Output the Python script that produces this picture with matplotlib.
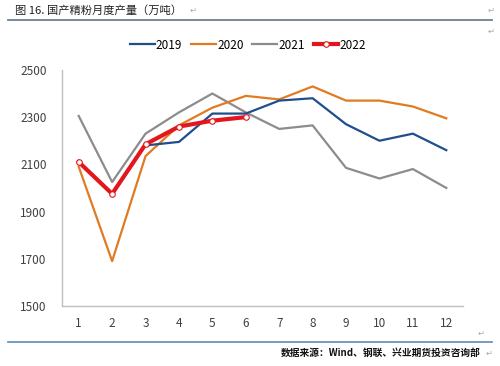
import matplotlib
matplotlib.use("Agg")
import matplotlib.pyplot as plt
from matplotlib.lines import Line2D

plt.rcParams['font.family'] = ['Noto Sans CJK SC', 'DejaVu Sans']

months = list(range(1, 13))
month_labels = [str(m) for m in months]

# 2019 starts in March
months_2019 = [3, 4, 5, 6, 7, 8, 9, 10, 11, 12]
y2019 = [2180, 2195, 2315, 2315, 2370, 2380, 2270, 2200, 2230, 2160]
y2020 = [2090, 1690, 2135, 2265, 2340, 2390, 2375, 2430, 2370, 2370, 2345, 2295]
y2021 = [2305, 2025, 2230, 2320, 2400, 2320, 2250, 2265, 2085, 2040, 2080, 2000]
months_2022 = [1, 2, 3, 4, 5, 6]
y2022 = [2110, 1975, 2185, 2260, 2285, 2300]

yticks = [1500, 1700, 1900, 2100, 2300, 2500]

c2019 = "#1f4e8c"
c2020 = "#e07b22"
c2021 = "#8c8c8c"
c2022 = "#e3161e"

fig = plt.figure(figsize=(5, 3.66), dpi=100)
ax = fig.add_axes([0.124, 0.164, 0.802, 0.645])

ax.plot(months_2019, y2019, color=c2019, lw=1.6, zorder=3)
ax.plot(months, y2020, color=c2020, lw=1.6, zorder=2)
ax.plot(months, y2021, color=c2021, lw=1.6, zorder=1)
ax.plot(months_2022, y2022, color=c2022, lw=3, marker="o", ms=4,
        mfc="white", mec=c2022, mew=0.8, zorder=4)

ax.set_xlim(0.5, 12.5)
ax.set_ylim(1500, 2500)
ax.set_xticks(months)
ax.set_xticklabels(month_labels)
ax.set_yticks(yticks)
ax.tick_params(axis="both", length=0, labelsize=8.5, colors="#404040")
ax.tick_params(axis="x", pad=8)
ax.tick_params(axis="y", pad=11)
for s in ["top", "right"]:
    ax.spines[s].set_visible(False)
for s in ["left", "bottom"]:
    ax.spines[s].set_color("#bfbfbf")
    ax.spines[s].set_linewidth(1)

handles = [
    Line2D([], [], color=c2019, lw=1.6),
    Line2D([], [], color=c2020, lw=1.6),
    Line2D([], [], color=c2021, lw=1.6),
    Line2D([], [], color=c2022, lw=3, marker="o", ms=4, mfc="white",
           mec=c2022, mew=0.8),
]
fig.legend(handles, ["2019", "2020", "2021", "2022"], loc="center",
           bbox_to_anchor=(0.496, 0.877), ncol=4, frameon=False,
           fontsize=8.5, handlelength=2.1, handletextpad=0.1,
           columnspacing=0.75)

# header
fig.text(0.03, 0.972, "图 16. 国产精粉月度产量（万吨）", fontsize=8.1,
         va="center", ha="left", color="#222222")
fig.text(0.38, 0.972, "↵", fontsize=6, va="center", color="#aaaaaa")
fig.text(0.975, 0.972, "↵", fontsize=6, va="center", color="#aaaaaa")
fig.text(0.975, 0.915, "↵", fontsize=6, va="center", color="#aaaaaa")
fig.add_artist(Line2D([0.016, 0.984], [0.945, 0.945], color="#6b7f95", lw=1.3))

# footer
fig.text(0.955, 0.09, "↵", fontsize=6, va="center", color="#aaaaaa")
fig.add_artist(Line2D([0.016, 0.984], [0.065, 0.065], color="#5b8db8", lw=1.2))
fig.text(0.962, 0.035, "数据来源：Wind、钢联、兴业期货投资咨询部", fontsize=7,
         fontweight="bold", ha="right", va="center", color="#111111")
fig.text(0.972, 0.035, "↵", fontsize=6, va="center", color="#aaaaaa")

fig.savefig("out.png", dpi=100)
